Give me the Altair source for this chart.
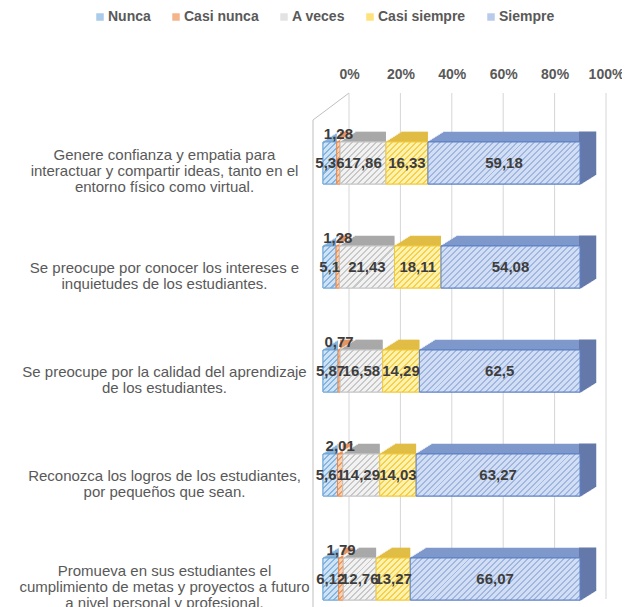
import math
import altair as alt
import pandas as pd

CATEGORIES = [
    "Genere confianza y empatia para|interactuar y compartir ideas, tanto en el|entorno físico como virtual.",
    "Se preocupe por conocer los intereses e|inquietudes de los estudiantes.",
    "Se preocupe por la calidad del aprendizaje|de los estudiantes.",
    "Reconozca los logros de los estudiantes,|por pequeños que sean.",
    "Promueva en sus estudiantes el|cumplimiento de metas y proyectos a futuro|a nivel personal y profesional.",
]
SERIES = ["Nunca", "Casi nunca", "A veces", "Casi siempre", "Siempre"]
NUNCA = [5.36, 5.1, 5.87, 5.61, 6.12]
CASI_NUNCA = [1.28, 1.28, 0.77, 2.01, 1.79]
A_VECES = [17.86, 21.43, 16.58, 14.29, 12.76]
CASI_SIEMPRE = [16.33, 18.11, 14.29, 14.03, 13.27]
SIEMPRE = [59.18, 54.08, 62.5, 63.27, 66.07]
TICKS = [0, 20, 40, 60, 80, 100]

FRONT = ["#aacbea", "#f5b58a", "#e3e3e3", "#ffe27a", "#b9cbeb"]
HATCH_LIGHT = ["#cfe3f5", "#f9d2b4", "#f2f2f2", "#fff1ae", "#d2def3"]
HATCH_DARK = ["#86b6e0", "#ee9a5e", "#c8c8c8", "#f5d04a", "#a2b7e0"]
EDGE = ["#6fa6d8", "#ee8a4a", "#c4c4c4", "#f0c93a", "#5a80c8"]
TOP = ["#86b2dc", "#e49566", "#a9a9a9", "#e1bd45", "#7f98cc"]
SIDE = "#6479aa"

FONT = "Liberation Sans"
HEIGHT = 506
FH = 42          # front face height (px)
DX, DY = 16, 10  # depth of the 3D bars (px)
BAR_PX = 257     # pixel length of 100 %
PERIOD = 4.2     # hatch period (px)


def hatch(light, dark, w, h):
    """Diagonal '/' hatch as a linear gradient in bounding-box units."""
    w = max(w, 1.0)
    r = w / h
    y2 = (r + 1) / (r * r + 1)
    x2 = r * y2
    n = max(1, int(round((w + h) / math.sqrt(2) / PERIOD)))
    stops = []
    for j in range(n):
        t0 = j / n
        t1 = (j + 0.33) / n
        stops += [{"offset": t0, "color": dark}, {"offset": t1, "color": dark},
                  {"offset": t1, "color": light}, {"offset": (j + 1) / n, "color": light}]
    return {"gradient": "linear", "x1": 0, "y1": 0, "x2": x2, "y2": y2, "stops": stops}


series_vals = [NUNCA, CASI_NUNCA, A_VECES, CASI_SIEMPRE, SIEMPRE]
rows = []
for s_i, (name, vals) in enumerate(zip(SERIES, series_vals)):
    for c_i, cat in enumerate(CATEGORIES):
        total = sum(v[c_i] for v in series_vals)
        w = vals[c_i] / total * BAR_PX
        rows.append({"category": cat, "series": name, "order": s_i, "value": vals[c_i],
                     "edge": EDGE[s_i], "top": TOP[s_i],
                     "pattern": hatch(HATCH_LIGHT[s_i], HATCH_DARK[s_i], w, FH)})
df = pd.DataFrame(rows)

XS = alt.Scale(domain=[0, 1], range=[11, 11 + BAR_PX])
YS = alt.Scale(domain=CATEGORIES, range=[0, 556], paddingInner=0, paddingOuter=0.173)

Y_AXIS = alt.Axis(title=None, labelExpr="split(datum.label, '|')", domain=False, ticks=False,
                  tickSize=0, labelPadding=148, labelAlign="center",
                  labelOffset={"condition": {"test": "length(split(datum.value, '|')) > 2",
                                             "value": -8}, "value": 1},
                  labelFont=FONT, labelFontSize=15, labelColor="#595959", labelLimit=400,
                  labelLineHeight=16, grid=False)


def yenc():
    return alt.Y("category:N", scale=YS, sort=CATEGORIES, axis=Y_AXIS)


base = (alt.Chart(df)
        .transform_calculate(label="replace(toString(datum.value), '.', ',')")
        .transform_stack(stack="value", groupby=["category"], as_=["x0", "x1"],
                         offset="normalize", sort=[alt.SortField("order", order="ascending")])
        .transform_calculate(mid="(datum.x0 + datum.x1) / 2"))

# wall and grid
wall_df = pd.DataFrame({"w": [0]})
wall_diag = alt.Chart(wall_df).mark_rule(color="#bfbfbf", strokeWidth=1).encode(
    x=alt.value(1), y=alt.value(27), x2=alt.value(37), y2=alt.value(0))
wall_front = alt.Chart(wall_df).mark_rule(color="#bfbfbf", strokeWidth=1).encode(
    x=alt.value(1), y=alt.value(27), y2=alt.value(HEIGHT + 10))

grid = alt.Chart(pd.DataFrame({"tick": TICKS})).mark_rule(color="#d6d6d6", strokeWidth=1).encode(
    x=alt.X("tick:Q", scale=alt.Scale(domain=[0, 100], range=[37, 37 + BAR_PX]),
            axis=alt.Axis(orient="top", values=TICKS, labelExpr="datum.value + '%'",
                          domain=False, ticks=False, grid=False, labelPadding=12, title=None,
                          labelFlush=False, labelFont=FONT, labelFontSize=14,
                          labelFontWeight="bold", labelColor="#595959"))
)

layers = [wall_diag, wall_front, grid]

# top faces (stacked thin slices)
N = 10
for k in range(N):
    f = (k + 0.5) / N
    layers.append(base.mark_bar(height=DY / N + 0.7, xOffset=DX * f,
                                yOffset=-(FH / 2 + DY * f)).encode(
        x=alt.X("x0:Q", scale=XS, axis=None), x2="x1:Q", y=yenc(),
        fill=alt.Fill("top:N", scale=None)))

# side face of the last segment
M = 16
side_base = base.transform_filter("datum.series == 'Siempre'")
for k in range(M):
    f = (k + 0.5) / M
    layers.append(side_base.mark_bar(height=FH, xOffset=DX * f, yOffset=-DY * f,
                                     stroke=SIDE, strokeWidth=DX / M + 0.5, fill=SIDE).encode(
        x=alt.X("x1:Q", scale=XS, axis=None), x2="x1:Q", y=yenc()))

# front faces (solid, carries the legend)
front = base.mark_bar(height=FH, strokeWidth=1).encode(
    x=alt.X("x0:Q", scale=XS, axis=None), x2="x1:Q", y=yenc(),
    color=alt.Color("series:N", scale=alt.Scale(domain=SERIES, range=FRONT),
                    legend=alt.Legend(title=None, orient="none", legendX=-219, legendY=-83,
                                      direction="horizontal", symbolType="square",
                                      symbolSize=56, symbolStrokeWidth=0,
                                      labelFont=FONT, labelFontSize=14, labelFontWeight="bold",
                                      labelColor="#595959", columnPadding=18, labelOffset=1,
                                      padding=0)),
    stroke=alt.Stroke("edge:N", scale=None))
layers.append(front)

# hatch overlay on the front faces
front_hatch = base.mark_bar(height=FH, strokeWidth=1).encode(
    x=alt.X("x0:Q", scale=XS, axis=None), x2="x1:Q", y=yenc(),
    fill=alt.Fill("pattern", scale=None),
    stroke=alt.Stroke("edge:N", scale=None))
layers.append(front_hatch)

text_main = base.transform_filter("datum.series != 'Casi nunca'").mark_text(
    font=FONT, fontSize=15, fontWeight="bold", color="#3d3d3d", baseline="middle").encode(
    x=alt.X("mid:Q", scale=XS, axis=None), y=yenc(), text="label:N")
text_small = base.transform_filter("datum.series == 'Casi nunca'").mark_text(
    font=FONT, fontSize=15, fontWeight="bold", color="#3d3d3d", baseline="middle",
    yOffset=-29).encode(
    x=alt.X("mid:Q", scale=XS, axis=None), y=yenc(), text="label:N")
layers += [text_main, text_small]

chart = (alt.layer(*layers)
         .resolve_scale(x="independent")
         .properties(width=300, height=HEIGHT,
                     padding={"left": 304, "top": 85, "right": 10, "bottom": 8},
                     autosize=alt.AutoSizeParams(type="none"))
         .configure_view(stroke=None))

chart.save("out.html", embed_options={"renderer": "svg", "actions": False})
